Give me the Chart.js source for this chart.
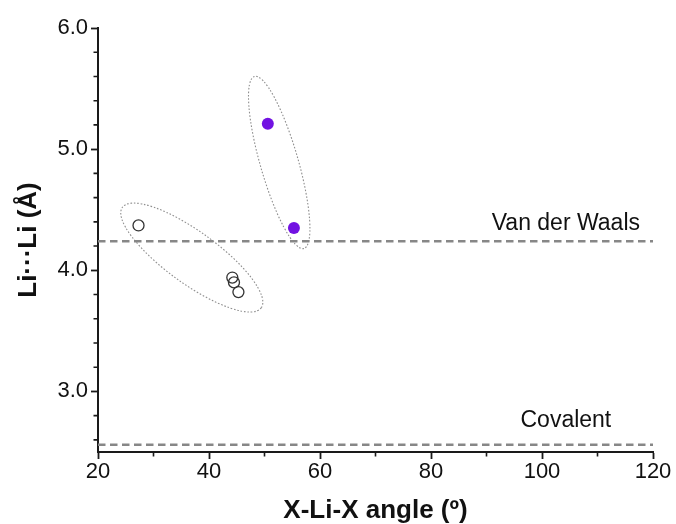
<!DOCTYPE html>
<html>
<head>
<meta charset="utf-8">
<script src="https://cdn.jsdelivr.net/npm/chart.js@4/dist/chart.umd.min.js"></script>
<style>
  html, body { margin: 0; padding: 0; background: #fff; }
  #wrap { width: 676px; height: 524px; }
</style>
</head>
<body>
<div id="wrap"><canvas id="angleChart"></canvas></div>
<script>
// X-Li-X angle (deg) vs Li...Li distance (A)
const openAngles = [27.3, 44.2, 44.5, 45.3];
const openDist   = [4.37, 3.94, 3.90, 3.82];
const filledAngles = [50.6, 55.3];
const filledDist   = [5.21, 4.35];

// reference distances
const refNames  = ['Van der Waals', 'Covalent'];
const refValues = [4.24, 2.56];
const refSpan   = [20, 120];
const refLabelX = [104.3, 104.3];
const refLabelY = [4.33, 2.71];

// dotted outlines around each group: major-axis end points (data units)
const outlineTipsA = [[24.4, 4.52], [49.4, 3.69]];
const outlineTipsB = [[48.2, 5.60], [57.1, 4.18]];

const xTicks = [20, 40, 60, 80, 100, 120];
const yTicks = [3.0, 4.0, 5.0, 6.0];

const AXIS = '#1a1a1a';
const FONT = '"Liberation Sans", Arial, Helvetica, sans-serif';

function toPts(xs, ys){ return xs.map((x, i) => ({ x, y: ys[i] })); }

const decorations = {
  id: 'decorations',
  beforeDatasetsDraw(chart){
    const { ctx, scales: { x, y } } = chart;
    const outlines = [{ tips: outlineTipsA, half: 26 }, { tips: outlineTipsB, half: 19 }];
    ctx.save();
    ctx.strokeStyle = '#8f8f8f';
    ctx.lineWidth = 1.1;
    ctx.setLineDash([1.6, 1.8]);
    outlines.forEach(o => {
      const x1 = x.getPixelForValue(o.tips[0][0]), y1 = y.getPixelForValue(o.tips[0][1]);
      const x2 = x.getPixelForValue(o.tips[1][0]), y2 = y.getPixelForValue(o.tips[1][1]);
      const cx = (x1 + x2) / 2, cy = (y1 + y2) / 2;
      const a = Math.hypot(x2 - x1, y2 - y1) / 2;
      ctx.beginPath();
      ctx.ellipse(cx, cy, a, o.half, Math.atan2(y2 - y1, x2 - x1), 0, Math.PI * 2);
      ctx.stroke();
    });
    ctx.restore();
  },
  afterDraw(chart){
    const { ctx, scales: { x, y }, chartArea } = chart;
    ctx.save();
    // minor ticks
    ctx.strokeStyle = AXIS;
    ctx.lineWidth = 1.6;
    ctx.beginPath();
    for(let v = 30; v < 120; v += 20){
      const px = x.getPixelForValue(v);
      ctx.moveTo(px, chartArea.bottom);
      ctx.lineTo(px, chartArea.bottom + 4.5);
    }
    for(let k = 13; k <= 30; k++){
      const v = k / 5;
      if(k % 5 === 0) continue;
      const py = y.getPixelForValue(v);
      ctx.moveTo(chartArea.left, py);
      ctx.lineTo(chartArea.left - 4.5, py);
    }
    ctx.stroke();
    // reference labels
    ctx.fillStyle = '#111';
    ctx.font = '23px ' + FONT;
    ctx.textAlign = 'center';
    ctx.textBaseline = 'alphabetic';
    refNames.forEach((name, i) => {
      ctx.fillText(name, x.getPixelForValue(refLabelX[i]), y.getPixelForValue(refLabelY[i]));
    });
    ctx.restore();
  }
};

const refSets = refNames.map((name, i) => ({
  type: 'line',
  label: name,
  data: toPts(refSpan, refSpan.map(() => refValues[i])),
  borderColor: '#878787',
  borderWidth: 2.5,
  borderDash: [7.5, 4.5],
  pointRadius: 0,
  order: 3
}));

new Chart(document.getElementById('angleChart'), {
  type: 'scatter',
  data: {
    datasets: [
      ...refSets,
      {
        label: 'open',
        data: toPts(openAngles, openDist),
        pointRadius: 5.5,
        pointBorderWidth: 1.3,
        pointBorderColor: '#333',
        pointBackgroundColor: 'rgba(255,255,255,0)',
        order: 1
      },
      {
        label: 'filled',
        data: toPts(filledAngles, filledDist),
        pointRadius: 6,
        pointBorderWidth: 0,
        pointBackgroundColor: '#7212e2',
        order: 1
      }
    ]
  },
  options: {
    responsive: true,
    maintainAspectRatio: false,
    animation: false,
    layout: { padding: { left: 0, top: 28, right: 23, bottom: 0 } },
    plugins: { legend: { display: false }, tooltip: { enabled: false } },
    scales: {
      x: {
        type: 'linear',
        min: 20, max: 120,
        afterFit(s){ s.height = 72; },
        afterBuildTicks(s){ s.ticks = xTicks.map(v => ({ value: v })); },
        border: { display: true, color: AXIS, width: 2 },
        grid: { drawOnChartArea: false, drawTicks: true, tickLength: 7, tickColor: AXIS, tickWidth: 1.8 },
        ticks: { color: '#111', font: { family: FONT, size: 22 }, padding: 0, maxRotation: 0 },
        title: {
          display: true, text: 'X-Li-X angle (º)', color: '#111',
          font: { family: FONT, size: 26, weight: 'bold', lineHeight: 1 }, padding: { top: 0, bottom: 0 }
        }
      },
      y: {
        type: 'linear',
        min: 2.5, max: 6.0,
        afterFit(s){ s.width = 98; },
        afterBuildTicks(s){ s.ticks = yTicks.map(v => ({ value: v })); },
        border: { display: true, color: AXIS, width: 2 },
        grid: { drawOnChartArea: false, drawTicks: true, tickLength: 7, tickColor: AXIS, tickWidth: 1.8 },
        ticks: { color: '#111', font: { family: FONT, size: 22 }, padding: 3, callback: v => Number(v).toFixed(1) },
        title: {
          display: true, text: 'Li···Li (Å)', color: '#111',
          font: { family: FONT, size: 26, weight: 'bold', lineHeight: 1 }, padding: { top: 16, bottom: 0 }
        }
      }
    }
  },
  plugins: [decorations]
});
</script>
</body>
</html>
